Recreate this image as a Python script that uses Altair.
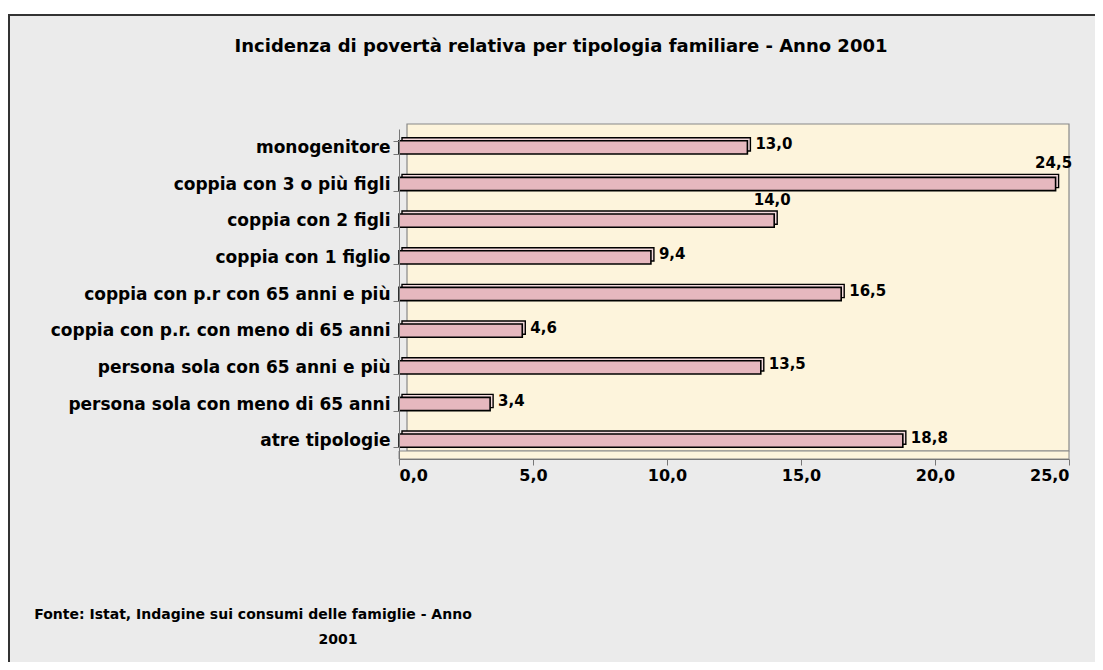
import altair as alt
import pandas as pd

categories = [
    "monogenitore",
    "coppia con 3 o più  figli",
    "coppia con 2 figli",
    "coppia con 1 figlio",
    "coppia con p.r con 65 anni e più",
    "coppia con p.r. con meno di 65 anni",
    "persona sola con  65 anni e più",
    "persona sola con meno di 65 anni",
    "atre tipologie",
]
values = [13.0, 24.5, 14.0, 9.4, 16.5, 4.6, 13.5, 3.4, 18.8]
above_labels = ["coppia con 3 o più  figli", "coppia con 2 figli"]
x_ticks = [0, 5, 10, 15, 20, 25]

title_text = "Incidenza di povertà relativa per tipologia familiare - Anno 2001"
source_line1 = "Fonte: Istat, Indagine sui consumi delle famiglie - Anno"
source_line2 = "2001"

df = pd.DataFrame({"cat": categories, "val": values})
df["label"] = [f"{v:.1f}".replace(".", ",") for v in values]
df["above"] = df["cat"].isin(above_labels)

FONT = "DejaVu Sans"
W, H = 670, 330

y_enc = alt.Y(
    "cat:N",
    sort=categories,
    title=None,
    scale=alt.Scale(paddingInner=0.64, paddingOuter=0.32),
    axis=alt.Axis(
        labelFont=FONT, labelFontWeight="bold", labelFontSize=17, labelColor="#000",
        labelPadding=3, domainColor="#777", tickColor="#777", tickSize=6,
        tickBand="extent", labelLimit=400, zindex=1,
    ),
)
x_enc = alt.X(
    "val:Q",
    title=None,
    scale=alt.Scale(domain=[0, 25], nice=False),
    axis=alt.Axis(
        values=x_ticks, grid=False,
        labelExpr="replace(format(datum.value, '.1f'), '.', ',')",
        labelFont=FONT, labelFontWeight="bold", labelFontSize=16, labelColor="#000",
        labelPadding=2, domainColor="#777", tickColor="#777", tickSize=6, zindex=1,
    ),
)

one = pd.DataFrame({"k": [0]})

frame = alt.Chart(one).mark_rect(fill="#ebebeb", stroke="#333", strokeWidth=2).encode(
    x=alt.value(-390), x2=alt.value(740), y=alt.value(-114), y2=alt.value(580)
)
wall = alt.Chart(one).mark_rect(fill="#fdf4dc", stroke="#888", strokeWidth=1.2).encode(
    x=alt.value(8), x2=alt.value(W), y=alt.value(-5), y2=alt.value(H - 8)
)
floor = alt.Chart(one).mark_rect(fill="#fdf4dc", stroke="#888", strokeWidth=1).encode(
    x=alt.value(0), x2=alt.value(W), y=alt.value(H - 8), y2=alt.value(H)
)

base = alt.Chart(df)

bars_back = base.mark_bar(fill="#f3d9dd", stroke="#000", strokeWidth=1.4, xOffset=3, yOffset=-3).encode(
    x=x_enc, y=y_enc
)
bars = base.mark_bar(fill="#e6b8bf", stroke="#000", strokeWidth=1.6).encode(x="val:Q", y=alt.Y("cat:N", sort=categories))

labels_side = base.transform_filter("!datum.above").mark_text(
    align="left", baseline="middle", dx=8, dy=-3, font=FONT, fontWeight="bold", fontSize=15, color="#000"
).encode(x="val:Q", y=alt.Y("cat:N", sort=categories), text="label:N")

labels_top = base.transform_filter("datum.above").mark_text(
    align="center", baseline="middle", dx=-2, dy=-21, font=FONT, fontWeight="bold", fontSize=15, color="#000"
).encode(x="val:Q", y=alt.Y("cat:N", sort=categories), text="label:N")

title = alt.Chart(one).mark_text(
    align="center", baseline="middle", font=FONT, fontWeight="bold", fontSize=18, color="#000"
).encode(x=alt.value(162), y=alt.value(-82), text=alt.value(title_text))

src1 = alt.Chart(one).mark_text(
    align="center", baseline="middle", font=FONT, fontWeight="bold", fontSize=14, color="#000"
).encode(x=alt.value(-146), y=alt.value(486), text=alt.value(source_line1))
src2 = alt.Chart(one).mark_text(
    align="center", baseline="middle", font=FONT, fontWeight="bold", fontSize=14, color="#000"
).encode(x=alt.value(-61), y=alt.value(511), text=alt.value(source_line2))

chart = alt.layer(frame, wall, floor, bars_back, bars, labels_side, labels_top, title, src1, src2).properties(
    width=W,
    height=H,
    autosize=alt.AutoSizeParams(type="none"),
    padding={"left": 391, "top": 121, "right": 26, "bottom": 203},
    background="#ffffff",
).configure_view(fill=None, stroke=None)

chart.save("out.html", embed_options={"renderer": "svg", "actions": False})
